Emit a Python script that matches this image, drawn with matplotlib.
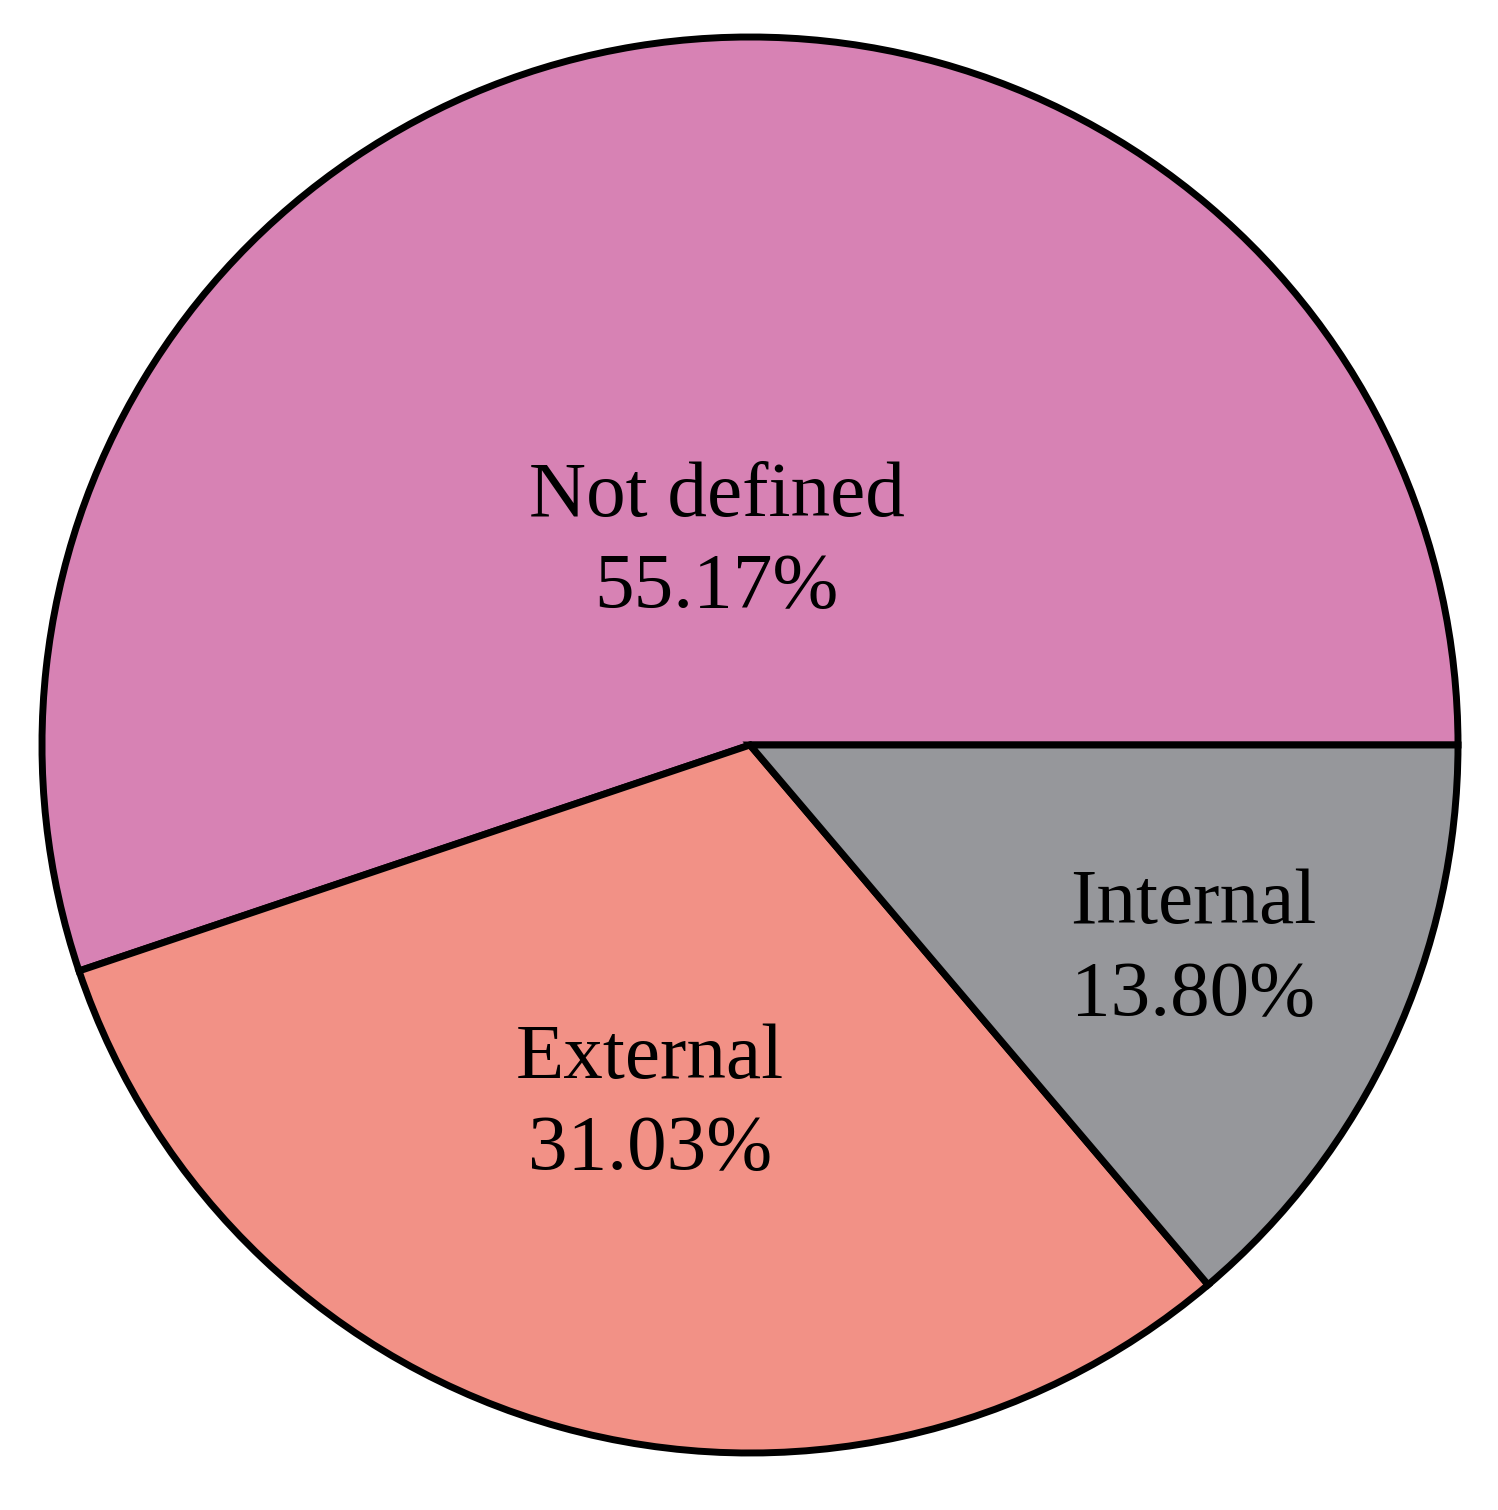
import matplotlib
matplotlib.use("Agg")
import matplotlib.pyplot as plt
import numpy as np

categories = ["Not defined", "External", "Internal"]
values = [55.17, 31.03, 13.80]
colors = ["#D782B4", "#F29186", "#96979B"]
label_dist = [0.29, 0.527, 0.69]

W, H, DPI = 1498, 1510, 100
fig = plt.figure(figsize=(W / DPI, H / DPI), dpi=DPI)
cx, cy, r = 750, 745, 708
ax = fig.add_axes([(cx - r) / W, (H - cy - r) / H, 2 * r / W, 2 * r / H])
wedges, _ = ax.pie(values, colors=colors, startangle=0, counterclock=True,
                   radius=1.0,
                   wedgeprops=dict(edgecolor="black", linewidth=5.0))
for w, cat, v, d in zip(wedges, categories, values, label_dist):
    mid = np.deg2rad((w.theta1 + w.theta2) / 2)
    ax.text(d * np.cos(mid), d * np.sin(mid), f"{cat}\n{v:.2f}%",
            ha="center", va="center", fontsize=57, family="Liberation Serif",
            linespacing=1.36)
ax.set_xlim(-1, 1)
ax.set_ylim(-1, 1)
ax.set_aspect("equal")
ax.axis("off")
fig.savefig("out.png", dpi=DPI)
